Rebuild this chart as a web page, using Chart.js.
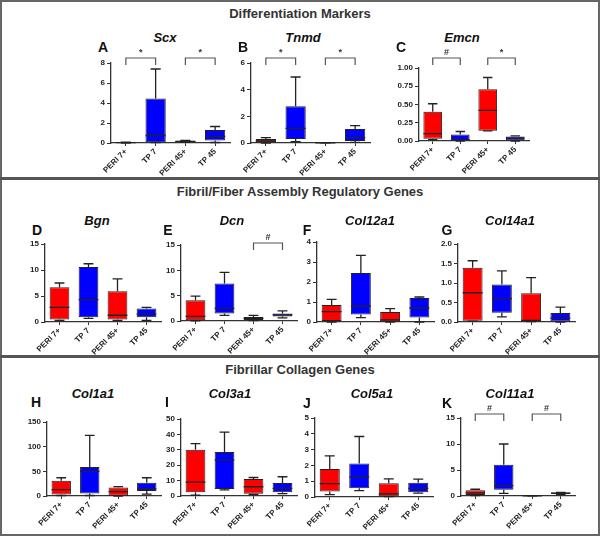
<!DOCTYPE html>
<html>
<head>
<meta charset="utf-8">
<script src="https://cdn.jsdelivr.net/npm/chart.js@4"></script>
<style>
body { margin: 0; background: #fff; }
#fig { position: relative; width: 600px; height: 536px; overflow: hidden; background: #fff; font-family: "Liberation Sans", Arial, sans-serif; }
.frame { position: absolute; left: 0; top: 0; width: 596px; height: 532px; border: 2px solid #666; }
.rule { position: absolute; left: 0; width: 600px; height: 3px; background: #555; }
.sec { position: absolute; left: 0; width: 600px; text-align: center; font-weight: bold; font-size: 13px; color: #333; line-height: 16px; }
.gene { position: absolute; font-weight: bold; font-style: italic; font-size: 13px; color: #111; transform: translate(-50%, -50%); white-space: nowrap; }
.tag { position: absolute; font-weight: bold; font-size: 14px; color: #111; transform: translate(-50%, -50%); }
canvas { position: absolute; }
</style>
</head>
<body>
<div id="fig">
  <div class="frame"></div>
  <div class="rule" style="top:177px"></div>
  <div class="rule" style="top:355px"></div>
  <div class="sec" style="top:6px">Differentiation Markers</div>
  <div class="sec" style="top:184px">Fibril/Fiber Assembly Regulatory Genes</div>
  <div class="sec" style="top:362px">Fibrillar Collagen Genes</div>
</div>
<script>
// groups on every x axis
const groups = ['PERI 7+', 'TP 7', 'PERI 45+', 'TP 45'];
const groupColors = ['#ff0000', '#0000ff', '#ff0000', '#0000ff'];

// box stats per group: min, q1, median, q3, max
const scx     = [[0, 0.01, 0.04, 0.07, 0.09], [0.05, 0.08, 0.75, 4.45, 7.4], [0.1, 0.12, 0.17, 0.22, 0.25], [0.05, 0.25, 0.65, 1.3, 1.65]];
const tnmd    = [[0, 0.05, 0.15, 0.3, 0.4], [0.1, 0.3, 1.1, 2.75, 4.95], [0, 0.005, 0.01, 0.02, 0.03], [0.05, 0.15, 0.4, 1.05, 1.3]];
const emcn    = [[0.02, 0.03, 0.1, 0.4, 0.51], [0, 0.01, 0.02, 0.09, 0.13], [0.14, 0.14, 0.42, 0.71, 0.87], [0, 0.01, 0.04, 0.06, 0.07]];
const bgn     = [[0.3, 0.5, 2.8, 6.7, 7.5], [0.7, 0.9, 4.3, 10.6, 11.2], [0.3, 0.5, 1.3, 5.9, 8.3], [0.3, 0.9, 1.5, 2.6, 2.8]];
const dcn     = [[0.05, 0.15, 0.9, 4.1, 4.9], [1.1, 1.5, 2.5, 7.4, 9.6], [0.1, 0.2, 0.5, 0.8, 1.1], [0.6, 0.9, 1.2, 1.5, 2.0]];
const col12a1 = [[0, 0.05, 0.52, 0.85, 1.13], [0.22, 0.38, 0.8, 2.45, 3.33], [0, 0.01, 0.1, 0.5, 0.67], [0, 0.22, 0.7, 1.2, 1.25]];
const col14a1 = [[0.02, 0.03, 0.75, 1.39, 1.57], [0.13, 0.24, 0.6, 0.96, 1.31], [0.01, 0.02, 0.04, 0.74, 1.14], [0, 0.01, 0.1, 0.23, 0.38]];
const col1a1  = [[1, 3, 13, 31, 37], [1, 5, 50, 59, 123], [0, 0.5, 9, 17, 19], [4, 10, 15, 27, 37]];
const col3a1  = [[0.5, 2.5, 9, 30, 34], [4, 4.5, 23.5, 28.5, 41.5], [1, 1.5, 6, 11, 12], [1.5, 2.5, 5, 8.5, 12.5]];
const col5a1  = [[0.15, 0.35, 0.85, 1.78, 2.6], [0.4, 0.55, 1.28, 2.12, 3.83], [0.02, 0.05, 0.2, 0.87, 1.15], [0.25, 0.3, 0.55, 0.9, 1.13]];
const col11a1 = [[0.1, 0.2, 0.6, 1.1, 1.3], [0.5, 1.2, 2, 6, 10], [0, 0.02, 0.04, 0.06, 0.08], [0.3, 0.4, 0.55, 0.65, 0.7]];

// y tick labels
const ticks8 = [0, 2, 4, 6, 8];
const ticks6 = [0, 2, 4, 6];
const ticks1 = [0, 0.25, 0.5, 0.75, 1];
const ticks15 = [0, 5, 10, 15];
const ticks4 = [0, 1, 2, 3, 4];
const ticks2 = [0, 0.5, 1, 1.5, 2];
const ticks150 = [0, 50, 100, 150];
const ticks50 = [0, 10, 20, 30, 40, 50];
const ticks5 = [0, 1, 2, 3, 4, 5];

// significance marks: [group a, group b, symbol]
const sigScx = [[0, 1, '*'], [2, 3, '*']];
const sigTnmd = [[0, 1, '*'], [2, 3, '*']];
const sigEmcn = [[0, 1, '#'], [2, 3, '*']];
const sigDcn = [[2, 3, '#']];
const sigCol11a1 = [[0, 1, '#'], [2, 3, '#']];

// layout of each panel (plot area in page pixels)
const panels = [
  { tag: 'A', gene: 'Scx', box: scx, ticks: ticks8, dec: 0, sig: sigScx, x: 111, r: 230, top: 63, bot: 143, gx: 165, gy: 37, lx: 103, ly: 47, lift: 5 },
  { tag: 'B', gene: 'Tnmd', box: tnmd, ticks: ticks6, dec: 0, sig: sigTnmd, x: 251, r: 370, top: 63, bot: 143, gx: 303, gy: 37, lx: 243, ly: 47, lift: 5 },
  { tag: 'C', gene: 'Emcn', box: emcn, ticks: ticks1, dec: 2, sig: sigEmcn, x: 419, r: 529, top: 68, bot: 141, gx: 462, gy: 37, lx: 401, ly: 47, lift: 10 },
  { tag: 'D', gene: 'Bgn', box: bgn, ticks: ticks15, dec: 0, sig: [], x: 45, r: 161, top: 244, bot: 322, gx: 97, gy: 220, lx: 37, ly: 230, lift: 0 },
  { tag: 'E', gene: 'Dcn', box: dcn, ticks: ticks15, dec: 0, sig: sigDcn, x: 181, r: 297, top: 245, bot: 321, gx: 232, gy: 220, lx: 168, ly: 230, lift: 2 },
  { tag: 'F', gene: 'Col12a1', box: col12a1, ticks: ticks4, dec: 0, sig: [], x: 317, r: 434, top: 242, bot: 322, gx: 370, gy: 220, lx: 307, ly: 230, lift: 0 },
  { tag: 'G', gene: 'Col14a1', box: col14a1, ticks: ticks2, dec: 1, sig: [], x: 458, r: 575, top: 244, bot: 322, gx: 510, gy: 220, lx: 447, ly: 230, lift: 0 },
  { tag: 'H', gene: 'Col1a1', box: col1a1, ticks: ticks150, dec: 0, sig: [], x: 47, r: 161, top: 422, bot: 496, gx: 93, gy: 393, lx: 36, ly: 402, lift: 0 },
  { tag: 'I', gene: 'Col3a1', box: col3a1, ticks: ticks50, dec: 0, sig: [], x: 181, r: 297, top: 419, bot: 496, gx: 230, gy: 393, lx: 167, ly: 402, lift: 0 },
  { tag: 'J', gene: 'Col5a1', box: col5a1, ticks: ticks5, dec: 0, sig: [], x: 315, r: 433, top: 418, bot: 497, gx: 372, gy: 393, lx: 307, ly: 403, lift: 0 },
  { tag: 'K', gene: 'Col11a1', box: col11a1, ticks: ticks15, dec: 0, sig: sigCol11a1, x: 461, r: 575, top: 418, bot: 496, gx: 510, gy: 393, lx: 447, ly: 403, lift: 4 }
];

const PAD_TOP = 25, Y_W = 40, X_H = 45, PAD_R = 10;

// whiskers, medians and significance brackets
const boxExtras = {
  id: 'boxExtras',
  afterDatasetsDraw(chart, args, opts) {
    const { ctx, scales: { y } } = chart;
    const meta = chart.getDatasetMeta(0);
    ctx.save();
    ctx.strokeStyle = '#222';
    ctx.lineWidth = 1.3;
    opts.stats.forEach((s, i) => {
      const bar = meta.data[i];
      const cx = bar.x, hw = bar.width / 2;
      const py = v => y.getPixelForValue(v);
      ctx.beginPath();
      ctx.moveTo(cx, py(s[3])); ctx.lineTo(cx, py(s[4]));
      ctx.moveTo(cx - hw / 2, py(s[4])); ctx.lineTo(cx + hw / 2, py(s[4]));
      ctx.moveTo(cx, py(s[1])); ctx.lineTo(cx, py(s[0]));
      ctx.moveTo(cx - hw / 2, py(s[0])); ctx.lineTo(cx + hw / 2, py(s[0]));
      ctx.moveTo(cx - hw, py(s[2])); ctx.lineTo(cx + hw, py(s[2]));
      ctx.stroke();
    });

    ctx.strokeStyle = '#555';
    ctx.fillStyle = '#333';
    ctx.lineWidth = 1.2;
    ctx.font = 'bold 9px "Liberation Sans", Arial, sans-serif';
    ctx.textAlign = 'center';
    ctx.textBaseline = 'bottom';
    opts.sig.forEach(([a, b, sym]) => {
      const xa = meta.data[a].x, xb = meta.data[b].x;
      const yl = chart.chartArea.top - opts.lift;
      ctx.beginPath();
      ctx.moveTo(xa, yl + 7); ctx.lineTo(xa, yl); ctx.lineTo(xb, yl); ctx.lineTo(xb, yl + 7);
      ctx.stroke();
      ctx.fillText(sym, (xa + xb) / 2, yl - 1);
    });
    ctx.restore();
  }
};

const fig = document.getElementById('fig');

panels.forEach(p => {
  const gene = document.createElement('div');
  gene.className = 'gene';
  gene.style.left = p.gx + 'px';
  gene.style.top = p.gy + 'px';
  gene.textContent = p.gene;
  fig.appendChild(gene);

  const tag = document.createElement('div');
  tag.className = 'tag';
  tag.style.left = p.lx + 'px';
  tag.style.top = p.ly + 'px';
  tag.textContent = p.tag;
  fig.appendChild(tag);

  const canvas = document.createElement('canvas');
  canvas.width = p.r - p.x + Y_W + PAD_R;
  canvas.height = p.bot - p.top + PAD_TOP + X_H;
  canvas.style.left = (p.x - Y_W) + 'px';
  canvas.style.top = (p.top - PAD_TOP) + 'px';
  fig.appendChild(canvas);

  const tickFont = { family: '"Liberation Sans", Arial, sans-serif', size: 8, weight: 'bold' };

  new Chart(canvas.getContext('2d'), {
    type: 'bar',
    data: {
      labels: groups,
      datasets: [{
        data: p.box.map(s => [s[1], s[3]]),
        backgroundColor: groupColors,
        borderColor: '#222',
        borderWidth: 1,
        borderSkipped: false,
        barPercentage: 0.68,
        categoryPercentage: 1
      }]
    },
    options: {
      responsive: false,
      animation: false,
      devicePixelRatio: 1,
      layout: { padding: { top: PAD_TOP, right: PAD_R, left: 0, bottom: 0 } },
      plugins: {
        legend: { display: false },
        tooltip: { enabled: false },
        boxExtras: { stats: p.box, sig: p.sig, lift: p.lift }
      },
      scales: {
        x: {
          type: 'category',
          afterFit: s => { s.height = X_H; },
          ticks: { minRotation: 45, maxRotation: 45, autoSkip: false, font: tickFont, color: '#222', padding: 1 },
          grid: { drawOnChartArea: false, offset: false, tickLength: 3, color: '#333' },
          border: { color: '#333', width: 1.3 }
        },
        y: {
          min: 0,
          max: p.ticks[p.ticks.length - 1],
          afterFit: s => { s.width = Y_W; },
          afterBuildTicks: s => { s.ticks = p.ticks.map(v => ({ value: v })); },
          ticks: { font: tickFont, color: '#222', padding: 2, callback: v => Number(v).toFixed(p.dec) },
          grid: { drawOnChartArea: false, tickLength: 4, color: '#333' },
          border: { color: '#333', width: 1.3 }
        }
      }
    },
    plugins: [boxExtras]
  });
});
</script>
</body>
</html>
